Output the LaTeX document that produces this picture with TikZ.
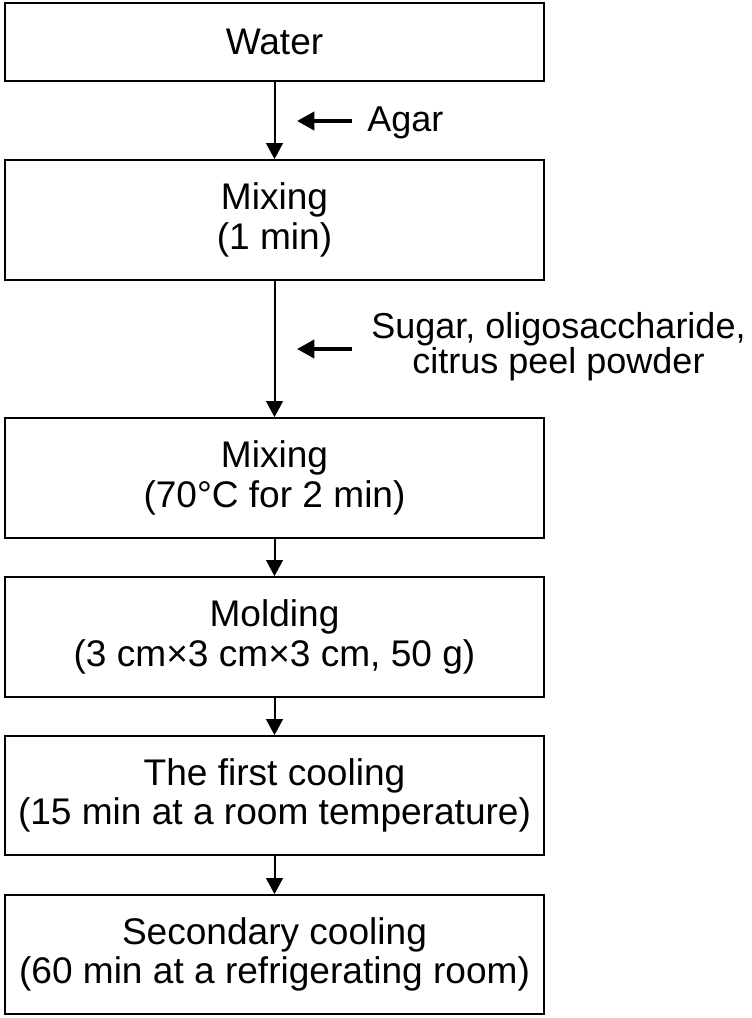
\documentclass[tikz,border=0pt]{standalone}
\usepackage{fontspec}
\setmainfont{Liberation Sans}
\usetikzlibrary{arrows.meta}
\begin{document}
\begin{tikzpicture}[x=0.75pt,y=-0.75pt,
  stepbox/.style={draw, line width=1.3pt, minimum width=404.25pt, inner sep=0pt, align=center,
    font=\fontsize{27.8pt}{29.5pt}\selectfont},
  flow/.style={line width=1.5pt, -{Triangle[length=12pt,width=12.5pt]}},
  feed/.style={line width=3pt, -{Triangle[length=13pt,width=13.5pt]}},
  lbl/.style={inner sep=0pt, align=center, font=\fontsize{27pt}{26.5pt}\selectfont}]
\useasboundingbox (0,0) rectangle (752,1018);
\node[stepbox, minimum height=58.5pt] (b1) at (274.5,42) {Water};
\node[stepbox, minimum height=90pt] (b2) at (274.5,220) {Mixing\\(1 min)};
\node[stepbox, minimum height=90pt] (b3) at (274.5,478) {Mixing\\(70°C for 2 min)};
\node[stepbox, minimum height=90pt] (b4) at (274.5,637) {Molding\\(3 cm×3 cm×3 cm, 50 g)};
\node[stepbox, minimum height=89.25pt] (b5) at (274.5,795.5) {The first cooling\\(15 min at a room temperature)};
\node[stepbox, minimum height=89.25pt] (b6) at (274.5,954.5) {Secondary cooling\\(60 min at a refrigerating room)};
\draw[flow] (b1) -- (b2);
\draw[flow] (b2) -- (b3);
\draw[flow] (b3) -- (b4);
\draw[flow] (b4) -- (b5);
\draw[flow] (b5) -- (b6);
\node[lbl, anchor=base west] (agar) at (367,131) {Agar};
\node[lbl] (sugar) at (558.5,347) {Sugar, oligosaccharide,\\citrus peel powder};
\coordinate (a1s) at (352,121);
\coordinate (a1e) at (297,121);
\coordinate (a2s) at (352,349);
\coordinate (a2e) at (297,349);
\draw[feed] (a1s) -- (a1e);
\draw[feed] (a2s) -- (a2e);
\end{tikzpicture}
\end{document}
